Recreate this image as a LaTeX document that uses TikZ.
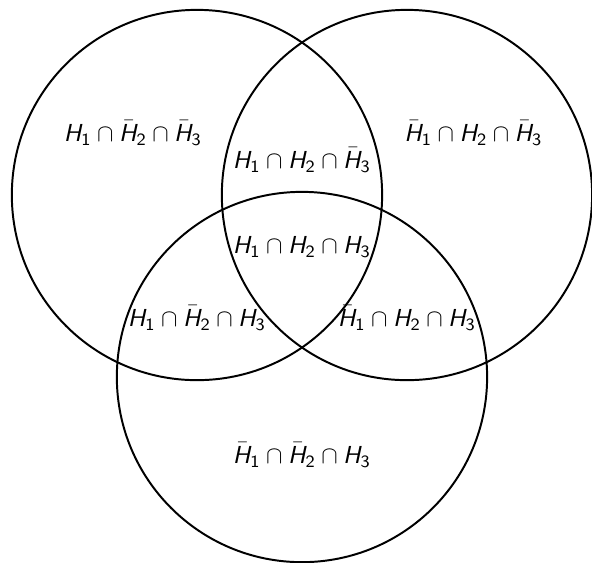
\documentclass[tikz,border=0pt]{standalone}
\usetikzlibrary{positioning}
\DeclareMathAlphabet{\mathsfit}{OT1}{cmss}{m}{sl}
\newcommand{\hyp}[1]{\mathsfit{H}_{\mathsf{#1}}}
\newcommand{\nhyp}[1]{\bar{\mathsfit{H}}_{\mathsf{#1}}}

\begin{document}
\begin{tikzpicture}[
    set/.style={circle, draw=black, thick, minimum size=5.29cm, inner sep=0pt},
    region/.style={inner sep=1pt}
]
\useasboundingbox (-2.814,-5.243) rectangle (5.643,2.786);

% Sets
\node[set] (H1) at (0, 0) {};
\node[set] (H2) at (3, 0) {};
\node[set] (H3) at (1.5, -2.6) {};

% ==================== Regions ====================
\node[region] (r100) at (-0.914, 0.886) {$\hyp{1} \cap \nhyp{2} \cap \nhyp{3}$};
\node[region] (r110) at (1.5, 0.5) {$\hyp{1} \cap \hyp{2} \cap \nhyp{3}$};
\node[region] (r010) at (3.95, 0.886) {$\nhyp{1} \cap \hyp{2} \cap \nhyp{3}$};
\node[region] (r111) at (1.5, -0.74) {$\hyp{1} \cap \hyp{2} \cap \hyp{3}$};
\node[region] (r101) at (0, -1.757) {$\hyp{1} \cap \nhyp{2} \cap \hyp{3}$};
\node[region] (r011) at (3, -1.757) {$\nhyp{1} \cap \hyp{2} \cap \hyp{3}$};
\node[region] (r001) at (1.5, -3.714) {$\nhyp{1} \cap \nhyp{2} \cap \hyp{3}$};

\end{tikzpicture}
\end{document}
